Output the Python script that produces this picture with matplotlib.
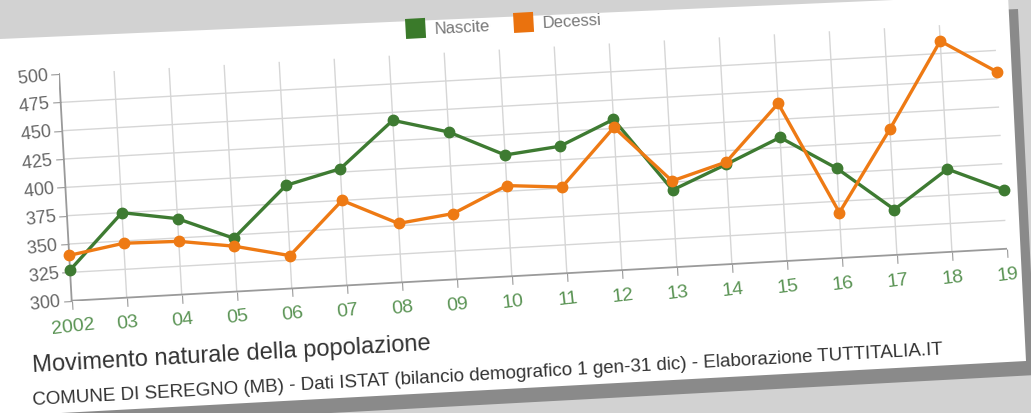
import matplotlib
matplotlib.use("Agg")
import matplotlib.pyplot as plt
from matplotlib.transforms import Affine2D
from matplotlib.patches import Polygon, Rectangle
import mpl_toolkits.axisartist.floating_axes as floating_axes
from mpl_toolkits.axisartist.grid_finder import FixedLocator, DictFormatter

plt.rcParams["font.family"] = ["Liberation Sans", "DejaVu Sans"]

# data
years = [2002, 2003, 2004, 2005, 2006, 2007, 2008, 2009, 2010,
         2011, 2012, 2013, 2014, 2015, 2016, 2017, 2018, 2019]
year_labels = ["2002", "03", "04", "05", "06", "07", "08", "09", "10",
               "11", "12", "13", "14", "15", "16", "17", "18", "19"]
nascite = [327, 375, 367, 347, 391, 403, 443, 430, 407,
           412, 433, 368, 388, 409, 379, 340, 373, 352]
decessi = [340, 348, 347, 340, 329, 375, 352, 358, 380,
           376, 426, 376, 390, 439, 340, 411, 486, 456]
y_ticks = [300, 325, 350, 375, 400, 425, 450, 475, 500]

GREEN = "#3e7b32"
ORANGE = "#ee7a14"

W, H = 1031, 414
angle = 3.18          # the photo is tilted
ox, oy = 71.7, 301.7  # pixel position of (2002, 300)
sx, sy = 55.1, 1.135  # pixels per year / per person

fig = plt.figure(figsize=(W / 100, H / 100), dpi=100)
fig.patch.set_facecolor("#d2d2d2")
# image pixel coords (y down) -> figure
px = Affine2D().scale(1 / W, -1 / H).translate(0, 1) + fig.transFigure

# paper sheet with its shadow
paper = [[0, 40], [1008, -4], [1026, 362], [24, 416], [0, 418]]
fig.add_artist(Polygon([[x + 10, y + 14] for x, y in paper], closed=True,
                       fc="#8a8a8a", ec="none", transform=px, zorder=-3))
fig.add_artist(Polygon(paper, closed=True, fc="white", ec="none", transform=px, zorder=-2))

tr = Affine2D().translate(-years[0], -y_ticks[0]).scale(sx, sy).rotate_deg(angle)
corners = tr.transform([[years[0], y_ticks[0]], [years[-1], y_ticks[0]],
                        [years[0], y_ticks[-1]], [years[-1], y_ticks[-1]]])
xmin, ymin = corners.min(axis=0)
xmax, ymax = corners.max(axis=0)
rect = [(ox + xmin) / W, (H - oy + ymin) / H, (xmax - xmin) / W, (ymax - ymin) / H]

grid_helper = floating_axes.GridHelperCurveLinear(
    tr, extremes=(years[0], years[-1], y_ticks[0], y_ticks[-1]),
    grid_locator1=FixedLocator(years),
    grid_locator2=FixedLocator(y_ticks),
    tick_formatter1=DictFormatter(dict(zip(years, year_labels))))
ax = fig.add_axes(rect, axes_class=floating_axes.FloatingAxes, grid_helper=grid_helper)
ax.set_xlim(xmin, xmax)
ax.set_ylim(ymin, ymax)
ax.patch.set_facecolor("white")
ax.grid(True, color="#d6d6d6", linewidth=1.0)

for side in ["top", "right"]:
    ax.axis[side].set_visible(False)
for side in ["bottom", "left"]:
    a = ax.axis[side]
    a.line.set_color("#9a9a9a")
    a.line.set_linewidth(1.3)
    a.major_ticks.set_color("#9a9a9a")
    a.major_ticks.set_ticksize(6)
    a.major_ticks.set_tick_out(True)
ax.axis["bottom"].major_ticklabels.set(color="#5b9455", fontsize=14, rotation=angle)
ax.axis["bottom"].major_ticklabels.set_pad(6)
# left labels carry a default 90 deg offset in axisartist
ax.axis["left"].major_ticklabels.set(color="#666666", fontsize=13, rotation=90 + angle)
ax.axis["left"].major_ticklabels.set_pad(2)

aux = ax.get_aux_axes(tr)
aux.plot(years, nascite, color=GREEN, lw=2.4, marker="o", ms=7.5, clip_on=False, zorder=3)
aux.plot(years, decessi, color=ORANGE, lw=2.4, marker="o", ms=7.5, clip_on=False, zorder=4)

# legend (drawn by hand so it follows the tilt)
for (x0, y0), col, lab in [((405, 20), "#3a7a2a", "Nascite"), ((513, 14), "#ea720e", "Decessi")]:
    fig.add_artist(Rectangle((x0, y0), 20, 20, angle=-angle, fc=col, ec="none", transform=px))
    fig.text(x0 + 30, y0 + 14, lab, transform=px, rotation=angle, rotation_mode="anchor",
             ha="left", va="baseline", color="#777777", fontsize=12)

fig.text(33, 372, "Movimento naturale della popolazione", transform=px, rotation=angle,
         rotation_mode="anchor", ha="left", va="baseline", color="#333333", fontsize=17)
fig.text(33, 405, "COMUNE DI SEREGNO (MB) - Dati ISTAT (bilancio demografico 1 gen-31 dic) "
         "- Elaborazione TUTTITALIA.IT", transform=px, rotation=angle,
         rotation_mode="anchor", ha="left", va="baseline", color="#333333", fontsize=13.5)

fig.savefig("out.png", dpi=100)
